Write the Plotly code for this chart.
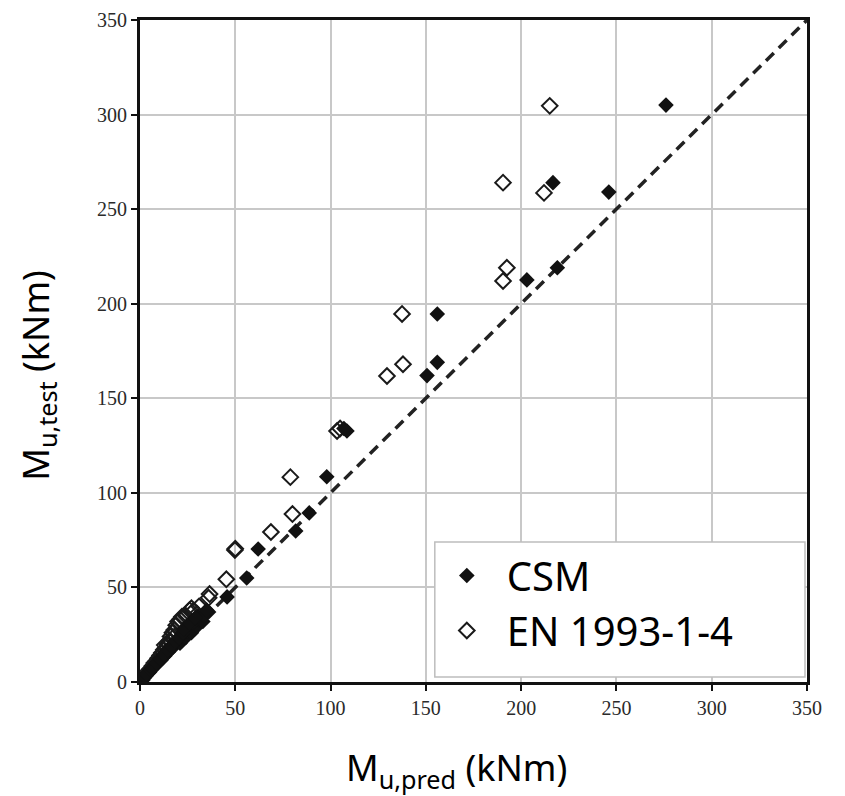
import plotly.graph_objects as go

# CSM predictions (filled diamonds)
csm_pred = [276, 246, 216.7, 219, 203, 156, 156, 150.6, 108.6, 107, 98, 88.8, 81.7, 62, 56, 45.7,
            1, 2, 3, 4, 5, 6, 7, 8, 9, 10, 11, 12, 13, 14, 15, 16, 17, 18, 19, 20, 21, 22, 23, 24,
            25, 26, 27, 28, 29, 30, 31, 32, 33, 34, 36,
            1.5, 2.5, 3.5, 5.5, 6.5, 8.5, 10.5, 12.5, 14.5, 16.5, 18.5, 20.5, 22.5, 24.5, 26.5,
            28.5, 30.5, 33.5, 35, 23, 26, 29]
csm_test = [305, 259, 264, 219, 212.6, 194.6, 169, 162, 132.7, 134, 108.5, 89.4, 79.8, 70.3, 55, 45,
            1, 2.2, 3.1, 4.5, 5.2, 6.8, 7.5, 8.8, 9.6, 11, 11.5, 13, 13.8, 15.5, 16, 17.5, 18, 19.5,
            21, 22, 20.5, 24, 25.5, 23.5, 27, 28, 26, 30, 31, 29.5, 33, 34, 32, 36, 37,
            2.0, 3.0, 4.2, 6.5, 7.6, 10, 12.4, 14.6, 17, 19, 21.5, 23.5, 26, 28, 30.5,
            32, 34.5, 35, 38, 28, 31, 34]

# EN 1993-1-4 predictions (open diamonds)
en_pred = [215, 190.5, 212, 192.5, 190.5, 137.5, 138, 129.6, 103.4, 105, 78.9, 80, 68.7, 49.8, 50,
           45.3, 36.5, 36, 0.8, 1.5, 2.5, 3.5, 4.5, 5.5, 6.5, 7.5, 8.5, 9.5, 10.5, 11.5, 12.5, 13.5,
           14.5, 15.5, 16, 17, 18, 19, 20, 21, 22, 24, 26, 27, 28, 30, 31, 16, 18, 13]
en_test = [304.6, 264, 258.6, 219, 212, 194.6, 168, 161.8, 132.7, 134, 108.3, 88.8, 79.3, 69.8, 70.5,
           54.3, 46.5, 44.5, 1, 2.2, 3.5, 4.6, 6, 7, 8.5, 10, 11, 12.5, 14, 15.5, 17, 18, 20, 22, 24,
           26, 27.5, 30, 32, 33, 34.5, 35, 38, 39, 37.5, 36, 40, 21, 24, 19.5]

line_x = [0, 350]
line_y = [0, 350]
ticks = [0, 50, 100, 150, 200, 250, 300, 350]

fig = go.Figure()
fig.add_trace(go.Scatter(x=line_x, y=line_y, mode="lines",
                         line=dict(color="#222222", width=3.5, dash="11px,7px"),
                         showlegend=False, hoverinfo="skip"))
fig.add_trace(go.Scatter(x=en_pred, y=en_test, mode="markers", name="EN 1993-1-4",
                         marker=dict(symbol="diamond-open", size=12, color="#1a1a1a",
                                     line=dict(width=2, color="#1a1a1a"))))
fig.add_trace(go.Scatter(x=csm_pred, y=csm_test, mode="markers", name="CSM",
                         marker=dict(symbol="diamond", size=12, color="#111111")))

axis_common = dict(range=[0, 350], tickvals=ticks, showgrid=True, gridcolor="#c8c8c8",
                   gridwidth=1.5, showline=True, linecolor="#111111", linewidth=3,
                   mirror=True, ticks="outside", ticklen=6, tickwidth=2, tickcolor="#111111",
                   zeroline=False, automargin=False)

fig.update_layout(
    width=837, height=788,
    margin=dict(l=132, r=38, t=12, b=114, autoexpand=False),
    paper_bgcolor="white", plot_bgcolor="white",
    xaxis=dict(**axis_common),
    yaxis=dict(**axis_common),
    legend=dict(x=0.43, y=0.21, xanchor="left", yanchor="top",
                bgcolor="rgba(0,0,0,0)", borderwidth=0, traceorder="reversed",
                font=dict(family="Noto Sans", size=40, color="black"),
                itemsizing="trace", itemwidth=70, tracegroupgap=0),
    shapes=[dict(type="rect", xref="paper", yref="paper", x0=0.442, x1=0.997, y0=0.0076, y1=0.2115,
                 line=dict(color="#bdbdbd", width=1.5), fillcolor="white", layer="above")],
    annotations=[
        dict(text="M<sub>u,pred</sub> (kNm)", xref="paper", yref="paper", x=0.475, y=-0.132,
             showarrow=False, font=dict(family="Noto Sans", size=36, color="black"),
             xanchor="center", yanchor="middle"),
        dict(text="M<sub>u,test</sub> (kNm)", xref="paper", yref="paper", x=-0.153, y=0.464,
             showarrow=False, textangle=-90, font=dict(family="Noto Sans", size=36, color="black"),
             xanchor="center", yanchor="middle"),
    ],
)
fig.update_xaxes(tickfont=dict(family="Liberation Serif", size=20, color="#2a2a2a"))
fig.update_yaxes(tickfont=dict(family="Liberation Serif", size=20, color="#2a2a2a"))

fig.write_html("out.html")
